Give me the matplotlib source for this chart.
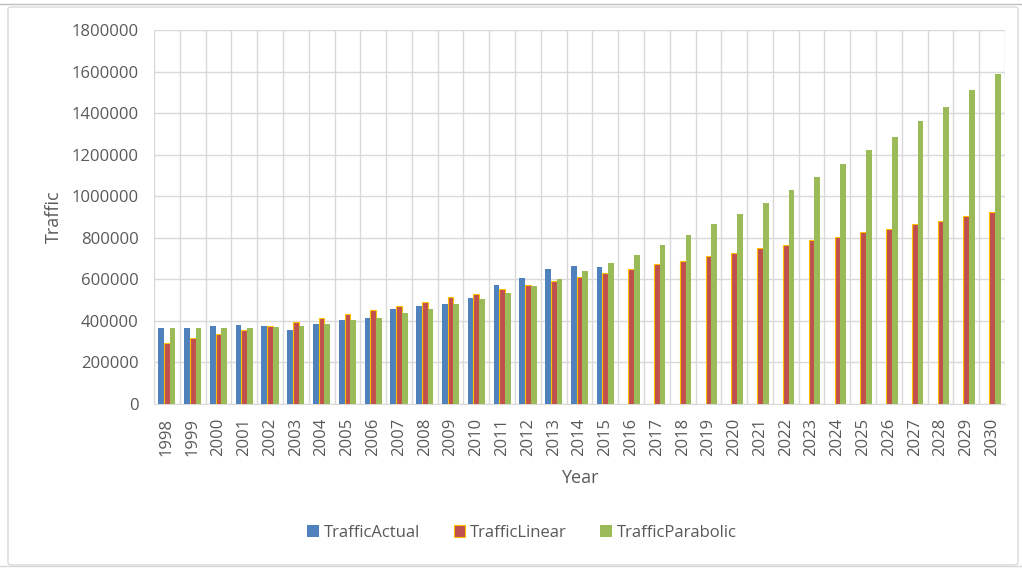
import numpy as np
import matplotlib
matplotlib.use("Agg")
from matplotlib import pyplot as plt
from matplotlib.patches import FancyBboxPatch

# Data
years = list(range(1998, 2031))
traffic_actual = [364000, 364000, 375000, 381000, 375000, 355000, 386000, 403000,
                  415000, 456000, 472000, 483000, 510000, 571000, 605000, 650000,
                  662000, 658000]
traffic_linear = [295000, 317000, 335000, 357000, 374000, 396000, 412000, 434000,
                  452000, 473000, 492000, 513000, 531000, 553000, 571000, 593000,
                  610000, 632000, 648000, 672000, 690000, 710000, 727000, 749000,
                  767000, 788000, 805000, 828000, 844000, 866000, 882000, 906000,
                  922000]
traffic_parabolic = [364000, 364000, 364000, 364000, 369000, 375000, 386000, 403000,
                     415000, 438000, 456000, 483000, 505000, 534000, 568000, 601000,
                     640000, 680000, 718000, 764000, 813000, 865000, 914000, 969000,
                     1030000, 1092000, 1153000, 1221000, 1287000, 1360000, 1431000,
                     1511000, 1588000]
series_names = ['TrafficActual', 'TrafficLinear', 'TrafficParabolic']

plt.rcParams['font.family'] = ['Open Sans', 'DejaVu Sans']
text_color = '#595959'

fig = plt.figure(figsize=(10.22, 5.69), dpi=100)
ax = fig.add_axes([154 / 1022, 1 - 404 / 569, (1005 - 154) / 1022, (404 - 30) / 569])

x = np.arange(len(years))
w = 0.222
# no actual traffic after 2015
actual = traffic_actual + [np.nan] * (len(years) - len(traffic_actual))

ax.bar(x - w, actual, w, color='#4F81BD', label=series_names[0], zorder=3)
ax.bar(x, traffic_linear, w, color='#C0504D', edgecolor='#FFC000', linewidth=0.8,
       label=series_names[1], zorder=3)
ax.bar(x + w, traffic_parabolic, w, color='#9BBB59', label=series_names[2], zorder=3)

ax.set_xlim(-0.5, len(years) - 0.5)
ax.set_ylim(0, 1800000)
ax.set_yticks(np.arange(0, 1800001, 200000))
ax.set_yticklabels([str(v) for v in range(0, 1800001, 200000)])
ax.set_xticks(x)
ax.set_xticklabels([str(y) for y in years], rotation=90)
ax.set_xticks(np.arange(-0.5, len(years)), minor=True)

ax.grid(True, axis='y', color='#D9D9D9', linewidth=1, zorder=0)
ax.grid(True, axis='x', which='minor', color='#D9D9D9', linewidth=1, zorder=0)
ax.tick_params(axis='both', which='both', length=0, labelsize=12, colors=text_color)
ax.tick_params(axis='y', pad=11)
ax.tick_params(axis='x', pad=10)

for side in ['top', 'right', 'left']:
    ax.spines[side].set_visible(False)
ax.spines['bottom'].set_color('#D9D9D9')

ax.set_xlabel('Year', fontsize=13, color=text_color, labelpad=9)
ax.set_ylabel('Traffic', fontsize=13, color=text_color, labelpad=6)

fig.legend(loc='center', bbox_to_anchor=(522 / 1022, 1 - 533 / 569), ncol=3,
           frameon=False, fontsize=12, labelcolor=text_color, handlelength=0.7,
           handleheight=0.7, handletextpad=0.3, columnspacing=2.0)

# chart area frame
fig.add_artist(plt.Line2D([0, 1], [1 - 4 / 569, 1 - 4 / 569], transform=fig.transFigure,
                          color='#BFBFBF', linewidth=1))
fig.add_artist(plt.Line2D([0, 1], [1 - 566 / 569, 1 - 566 / 569], transform=fig.transFigure,
                          color='#D9D9D9', linewidth=1))
fig.add_artist(FancyBboxPatch((8 / 1022, 4 / 569), 1010 / 1022, 558 / 569,
                              boxstyle='round,pad=0,rounding_size=0.004',
                              transform=fig.transFigure, fill=False,
                              edgecolor='#D9D9D9', linewidth=1))

fig.savefig('out.png', dpi=100)
